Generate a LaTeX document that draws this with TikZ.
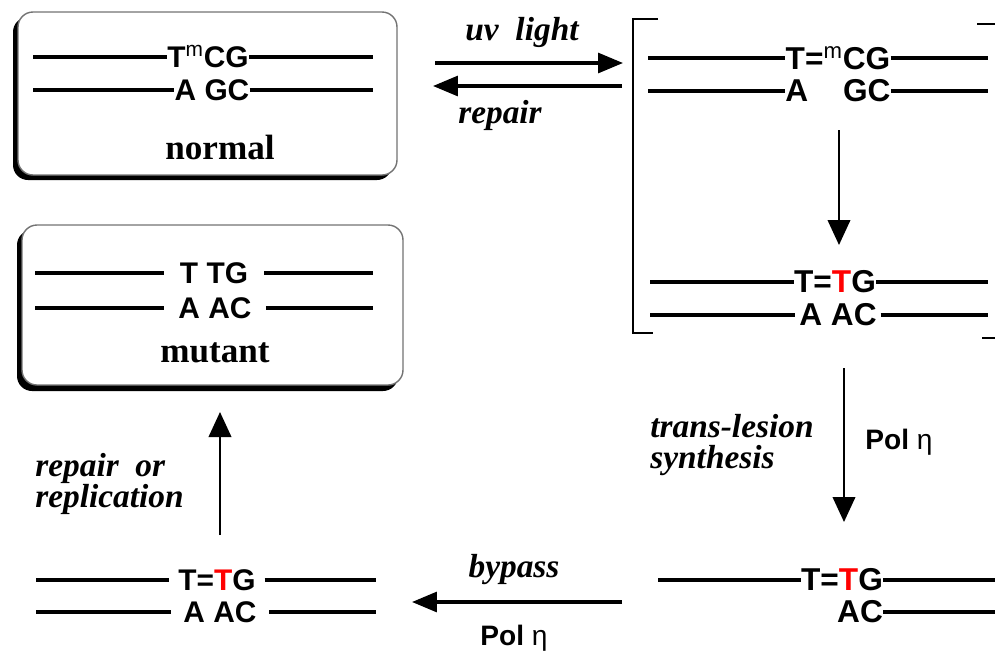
\documentclass[tikz,border=0pt]{standalone}
\usepackage{fontspec}
\setmainfont{Liberation Serif}
\setsansfont{Liberation Sans}
\usepackage{xcolor}
\usetikzlibrary{arrows.meta}

\tikzset{
  strand/.style={line width=1.9pt},
  seqs/.style={font=\sffamily\bfseries\fontsize{17}{19}\selectfont, inner ysep=1pt},
  seql/.style={font=\sffamily\bfseries\fontsize{18}{20}\selectfont, inner ysep=1pt},
  lbl/.style={font=\rmfamily\bfseries\itshape\fontsize{19}{18}\selectfont, inner sep=0pt},
  pol/.style={font=\sffamily\fontsize{16}{18}\selectfont, inner sep=0pt},
  state/.style={font=\rmfamily\bfseries\fontsize{20}{22}\selectfont, inner sep=0pt},
  statebox/.style={draw=black!55, line width=0.8pt, fill=white, rounded corners=0.3cm},
  shade/.style={fill=black, rounded corners=0.3cm},
  brk/.style={line width=1.4pt},
  react/.style={line width=1.8pt, -{Triangle[length=0.5cm,width=0.4cm]}},
  move/.style={line width=1.3pt, -{Triangle[length=0.5cm,width=0.45cm]}}
}

\begin{document}
\begin{tikzpicture}[x=0.02cm, y=-0.02cm]
  \useasboundingbox (0,0) rectangle (995,650);
  \clip (0,0) rectangle (995,650);

  % boxes for the normal and the mutant state
  \fill[shade] (13,17) rectangle (392,180);
  \draw[statebox] (18,12) rectangle (397,175);
  \fill[shade] (17,230) rectangle (398,391);
  \draw[statebox] (22,225) rectangle (403,385);
  \node[state] (normal) at (220,147) {normal};
  \node[state] (mutant) at (215,353) {mutant};

  % strands, smaller letters
  \foreach \nm/\x/\y/\txt/\l/\r/\g in {
    n1/208/57/{T\textsuperscript{\mdseries m}CG}/33/373/0pt,
    n2/212/90/{A GC}/33/373/0pt,
    m1/214/273/{T TG}/35/373/9pt,
    m2/215/308/{A AC}/35/373/8pt,
    l1/217/580/{T=\textcolor{red}{T}G}/36/376/5pt,
    l2/220/612/{A AC}/36/376/7pt
  }{
    \node[seqs, inner xsep=\g] (\nm) at (\x,\y) {\txt};
    \coordinate (\nm-l) at (\l,\y);
    \coordinate (\nm-r) at (\r,\y);
    \draw[strand] (\nm-l) -- (\nm.west);
    \draw[strand] (\nm.east) -- (\nm-r);
  }

  % strands, larger letters
  \foreach \nm/\x/\y/\txt/\l/\r/\g in {
    b1/838/58/{T=\textsuperscript{\mdseries m}CG}/648/988/0pt,
    b2/838/91/{A\hspace{1.1em}GC}/648/988/0pt,
    b3/835/282/{T=\textcolor{red}{T}G}/650/988/0pt,
    b4/838/315/{A AC}/650/988/2pt,
    r1/842/580/{T=\textcolor{red}{T}G}/658/995/0pt
  }{
    \node[seql, inner xsep=\g] (\nm) at (\x,\y) {\txt};
    \coordinate (\nm-l) at (\l,\y);
    \coordinate (\nm-r) at (\r,\y);
    \draw[strand] (\nm-l) -- (\nm.west);
    \draw[strand] (\nm.east) -- (\nm-r);
  }
  \node[seql, inner xsep=0pt] (r2) at (860,612) {AC};
  \coordinate (r2-r) at (995,612);
  \draw[strand] (r2.east) -- (r2-r);

  % bracket
  \draw[brk] (658,19) -- (633,19) -- (633,333) -- (653,333);
  \draw[brk] (977,24) -- (1002,24) -- (1002,338) -- (982,338);

  % arrows
  \coordinate (uvA) at (435,63);
  \coordinate (uvB) at (623,63);
  \coordinate (repA) at (622,86);
  \coordinate (repB) at (433,86);
  \draw[react] (uvA) -- (uvB);
  \draw[react] (repA) -- (repB);
  \node[lbl] (uv) at (522,32) {uv\enspace light};
  \node[lbl] (rep) at (500,115) {repair};

  \coordinate (dimA) at (839,130);
  \coordinate (dimB) at (839,245);
  \draw[move] (dimA) -- (dimB);

  \coordinate (tlsA) at (844,368);
  \coordinate (tlsB) at (844,522);
  \draw[move] (tlsA) -- (tlsB);
  \node[lbl, anchor=west, align=left] (tls) at (650,445) {trans-lesion\\synthesis};
  \node[pol, anchor=west] (pol1) at (865,442) {\bfseries Pol \mdseries η};

  \coordinate (bypA) at (622,602);
  \coordinate (bypB) at (412,602);
  \draw[react] (bypA) -- (bypB);
  \node[lbl] (byp) at (514,570) {bypass};
  \node[pol] (pol2) at (514,638) {\bfseries Pol \mdseries η};

  \coordinate (repC) at (220,535);
  \coordinate (repD) at (220,412);
  \draw[move] (repC) -- (repD);
  \node[lbl, anchor=west, align=left] (ro) at (35,484) {repair\enspace or\\replication};
\end{tikzpicture}
\end{document}
